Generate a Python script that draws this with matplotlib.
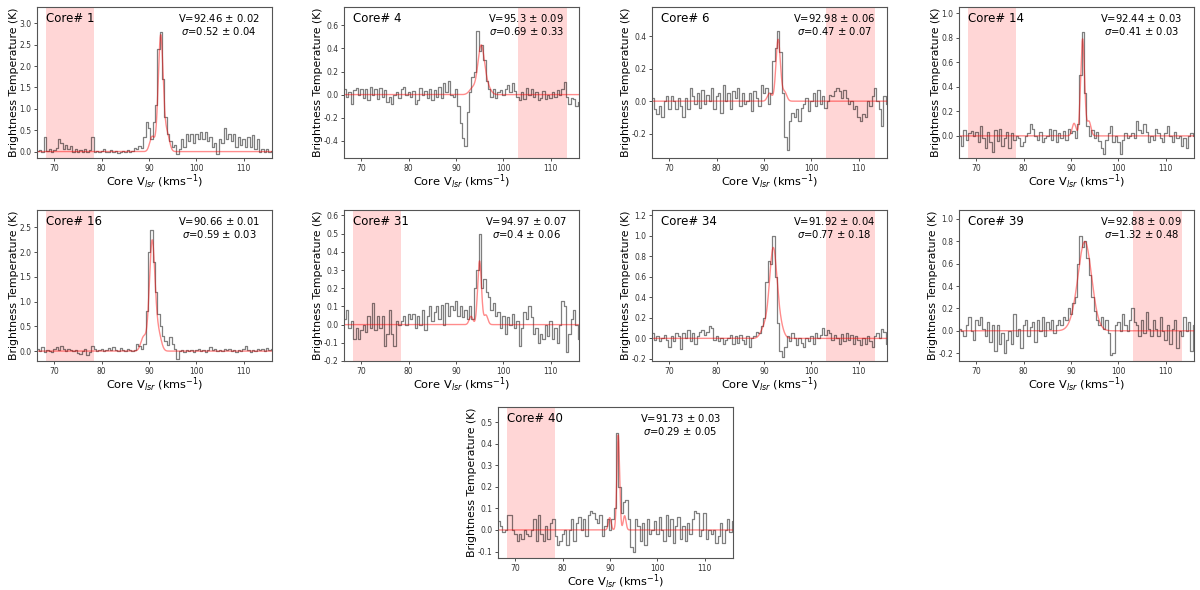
#Spectra of the cores with hyperfine fits
import numpy as np	#arrays
import matplotlib
matplotlib.use('Agg')
import matplotlib.pyplot as plt	#to plot

###################################################################
#data
core_names = ['1', '4', '6', '14', '16', '31', '34', '39', '40']
#velocity channels (km/s)
vel = np.arange(66.5, 116.01, 0.5)

spec_1 = [0.02, 0.03, 0.0, 0.33, 0.02, 0.05, 0.0, 0.03, 0.08, 0.30,
          0.20, 0.05, 0.15, 0.05, 0.12, 0.0, 0.05, 0.0, 0.03, -0.02,
          0.05, 0.0, 0.04, 0.35, 0.0, 0.02, 0.0, 0.02, 0.06, -0.02,
          0.0, 0.03, 0.0, 0.02, -0.03, 0.0, 0.02, 0.0, 0.04, 0.0,
          0.02, 0.08, 0.05, 0.12, 0.08, 0.35, 0.70, 0.55, 0.30, 0.70,
          1.10, 2.40, 2.80, 1.70, 0.80, 0.40, 0.25, 0.10, 0.15, -0.05,
          0.05, 0.30, 0.10, 0.40, 0.25, 0.40, 0.20, 0.42, 0.30, 0.45,
          0.30, 0.45, 0.25, 0.35, 0.10, 0.20, -0.05, 0.30, 0.20, 0.55,
          0.30, 0.40, 0.25, 0.40, 0.10, 0.35, 0.15, 0.30, 0.10, 0.35,
          0.10, 0.38, 0.05, 0.30, 0.0, 0.05, 0.0, 0.06, 0.0, 0.02]
spec_4 = [0.05, -0.02, 0.02, -0.08, 0.04, 0.06, 0.0, 0.05, -0.03, 0.05,
          -0.05, 0.07, 0.0, 0.05, -0.04, 0.06, -0.02, 0.04, -0.06, -0.02,
          -0.08, 0.0, 0.02, -0.03, 0.05, 0.07, 0.0, 0.02, -0.02, 0.03,
          -0.08, -0.05, 0.06, 0.0, 0.03, -0.03, 0.05, -0.05, 0.04, -0.02,
          0.07, -0.03, 0.10, 0.02, 0.12, 0.0, -0.02, 0.05, -0.10, -0.25,
          -0.38, -0.45, -0.15, 0.02, 0.15, 0.20, 0.55, 0.38, 0.43, 0.30,
          0.12, 0.05, -0.02, 0.05, -0.03, 0.02, 0.04, 0.0, 0.05, 0.08,
          0.02, 0.10, 0.03, -0.02, -0.05, 0.02, -0.04, 0.06, 0.0, 0.05,
          -0.02, 0.02, -0.05, -0.03, 0.03, -0.04, 0.0, -0.03, 0.02, -0.02,
          0.04, 0.0, 0.05, 0.11, -0.02, -0.08, -0.03, -0.04, -0.10, -0.06]
spec_6 = [0.02, -0.05, -0.08, -0.03, -0.10, 0.0, 0.03, -0.05, 0.03, 0.0,
          -0.05, 0.02, -0.03, -0.10, 0.02, -0.05, 0.08, 0.03, -0.02, 0.05,
          -0.04, 0.07, -0.02, 0.04, 0.0, 0.08, -0.05, 0.03, 0.05, -0.07,
          0.10, 0.0, 0.05, -0.05, 0.06, 0.02, 0.08, -0.03, 0.05, -0.02,
          0.0, 0.05, -0.06, 0.06, 0.02, -0.03, 0.10, 0.05, 0.08, -0.02,
          0.05, 0.25, 0.33, 0.43, 0.30, 0.05, -0.22, -0.30, -0.12, -0.07,
          -0.10, -0.05, -0.12, -0.04, -0.02, 0.02, -0.06, 0.0, 0.05, -0.03,
          0.07, -0.02, 0.03, -0.04, 0.0, 0.04, 0.03, 0.06, 0.08, 0.06,
          0.02, 0.07, 0.02, -0.02, 0.0, -0.05, -0.03, -0.10, -0.12, -0.08,
          -0.10, 0.0, -0.03, 0.03, 0.08, 0.0, -0.05, -0.15, 0.03, -0.02]
spec_14 = [0.0, -0.08, 0.05, -0.03, 0.02, 0.04, 0.0, 0.03, -0.05, 0.08,
           -0.02, -0.10, 0.03, -0.05, -0.13, 0.05, -0.04, 0.06, -0.08, -0.02,
           0.03, -0.10, 0.02, -0.03, 0.0, -0.02, -0.08, -0.05, 0.0, 0.02,
           0.10, 0.06, 0.0, -0.03, 0.03, -0.05, -0.02, 0.0, 0.06, -0.03,
           0.05, -0.05, 0.02, -0.02, 0.04, -0.03, 0.06, 0.02, 0.04, -0.02,
           0.10, 0.50, 0.85, 0.35, 0.08, 0.0, 0.05, -0.02, 0.03, -0.04,
           -0.10, -0.15, -0.03, 0.02, 0.08, -0.05, 0.0, -0.05, -0.15, -0.03,
           0.02, -0.02, 0.0, 0.02, -0.02, 0.12, 0.05, 0.02, 0.10, 0.03,
           -0.05, 0.0, -0.03, 0.06, 0.02, -0.02, -0.05, 0.02, 0.08, 0.0,
           -0.05, 0.03, -0.02, 0.0, -0.08, -0.02, -0.10, 0.0, 0.02, 0.0]
spec_16 = [0.05, 0.0, 0.08, -0.02, 0.03, 0.0, -0.02, 0.05, 0.08, 0.02,
           0.10, 0.05, 0.0, 0.05, 0.02, 0.0, 0.03, -0.03, -0.05, 0.0,
           0.04, -0.08, -0.02, 0.10, 0.05, 0.0, 0.02, 0.05, 0.0, 0.03,
           0.07, 0.02, 0.08, 0.03, 0.0, 0.06, 0.02, 0.0, 0.05, 0.03,
           0.0, 0.02, 0.15, 0.10, 0.05, 0.15, 0.80, 2.00, 2.45, 1.80,
           1.20, 0.75, 0.50, 0.30, 0.20, 0.12, 0.28, 0.15, 0.05, -0.15,
           0.0, 0.03, -0.02, 0.02, 0.0, 0.03, -0.02, 0.02, 0.04, 0.0,
           0.02, -0.02, 0.03, 0.08, 0.02, 0.05, 0.0, 0.03, 0.0, 0.05,
           0.02, 0.04, 0.0, 0.02, -0.02, 0.03, 0.0, 0.05, 0.10, 0.02,
           -0.02, 0.03, 0.0, 0.05, 0.02, 0.04, 0.0, 0.06, 0.02, 0.05]
spec_31 = [0.03, 0.08, -0.02, 0.02, -0.08, -0.02, -0.08, -0.03, 0.0, -0.04,
           0.05, -0.02, 0.12, -0.03, 0.05, -0.02, 0.05, -0.12, -0.05, 0.08,
           -0.05, -0.12, 0.02, 0.0, 0.02, 0.05, 0.0, 0.06, 0.03, 0.06,
           -0.02, 0.05, 0.0, 0.08, -0.03, 0.05, 0.10, 0.02, 0.07, 0.10,
           0.03, 0.11, 0.0, 0.12, 0.05, 0.10, 0.08, 0.13, 0.05, 0.10,
           0.04, 0.08, 0.03, 0.10, 0.03, 0.20, 0.30, 0.50, 0.20, 0.25,
           0.18, 0.15, 0.08, 0.12, 0.05, 0.07, -0.02, 0.05, -0.05, 0.04,
           0.0, 0.06, -0.02, 0.02, -0.12, -0.02, 0.07, 0.03, 0.10, 0.04,
           -0.05, -0.02, -0.10, -0.05, -0.08, 0.0, -0.06, 0.02, -0.08, -0.02,
           -0.10, 0.0, 0.13, 0.10, -0.15, -0.05, 0.03, 0.08, 0.0, -0.08]
spec_34 = [0.05, -0.02, 0.02, -0.03, 0.0, 0.03, -0.02, -0.08, 0.02, -0.03,
           0.05, 0.02, -0.10, 0.05, 0.0, 0.08, -0.03, 0.05, -0.05, 0.02,
           0.06, 0.08, 0.03, 0.06, 0.12, 0.10, -0.02, 0.02, -0.03, 0.0,
           -0.05, -0.02, 0.0, 0.03, -0.05, 0.02, -0.04, 0.03, -0.02, -0.05,
           0.02, -0.08, 0.0, 0.02, 0.06, 0.05, 0.12, 0.20, 0.55, 0.75,
           0.72, 1.00, 0.60, 0.15, -0.12, -0.18, -0.08, 0.02, -0.03, 0.05,
           0.0, -0.06, 0.0, -0.04, -0.08, 0.0, -0.03, 0.02, -0.05, 0.05,
           0.0, 0.03, 0.10, 0.03, 0.08, 0.05, -0.02, 0.03, 0.0, -0.05,
           0.04, -0.03, 0.05, -0.02, 0.03, -0.05, 0.02, -0.02, -0.06, 0.0,
           -0.05, 0.02, -0.03, -0.08, 0.02, 0.05, 0.0, 0.09, 0.06, -0.05]
spec_39 = [0.02, 0.0, -0.05, 0.05, 0.12, 0.0, -0.08, 0.10, 0.05, 0.12,
           0.02, -0.05, 0.08, -0.10, 0.05, -0.18, 0.05, -0.12, -0.02, -0.20,
           -0.08, 0.0, -0.12, 0.15, -0.05, 0.02, -0.15, 0.05, 0.10, -0.05,
           0.03, 0.08, -0.10, 0.10, 0.0, 0.12, -0.05, 0.08, 0.02, 0.10,
           -0.02, 0.05, 0.10, 0.05, 0.12, 0.10, 0.20, 0.15, 0.25, 0.30,
           0.60, 0.85, 0.75, 0.80, 0.65, 0.50, 0.30, 0.18, 0.10, 0.05,
           0.12, 0.02, 0.10, -0.02, -0.22, -0.20, 0.05, 0.08, 0.0, 0.15,
           0.05, 0.0, 0.10, 0.20, 0.08, 0.05, -0.05, 0.10, -0.02, 0.17,
           0.02, -0.05, 0.10, 0.02, -0.05, 0.12, 0.0, -0.08, 0.05, -0.12,
           0.02, 0.10, -0.15, 0.0, -0.05, 0.12, 0.0, 0.08, -0.18, 0.05]
spec_40 = [0.04, 0.02, -0.01, 0.0, 0.07, 0.07, 0.0, -0.02, -0.05, -0.02,
           -0.04, 0.0, -0.02, -0.03, 0.0, 0.05, -0.05, 0.07, -0.02, -0.05,
           0.02, -0.04, 0.03, 0.05, -0.03, -0.07, -0.05, -0.02, 0.0, -0.07,
           0.0, 0.05, -0.05, 0.03, 0.06, 0.0, 0.05, -0.03, 0.07, 0.09,
           0.08, 0.05, 0.03, 0.07, -0.03, 0.02, 0.05, 0.0, 0.05, 0.10,
           0.45, 0.20, 0.08, 0.13, 0.14, 0.05, -0.08, -0.10, 0.05, 0.02,
           -0.05, 0.03, -0.07, 0.05, -0.02, 0.0, 0.04, -0.02, 0.06, 0.0,
           -0.05, 0.07, -0.03, 0.05, -0.06, 0.02, 0.06, -0.04, 0.02, -0.05,
           0.03, -0.02, 0.05, 0.09, 0.08, -0.03, 0.0, 0.08, -0.04, 0.0,
           -0.02, 0.0, -0.06, -0.03, 0.03, -0.06, 0.0, 0.05, -0.01, 0.04]
spectra = [spec_1, spec_4, spec_6, spec_14, spec_16, spec_31, spec_34, spec_39, spec_40]

#fit results
fit_vel = [92.46, 95.3, 92.98, 92.44, 90.66, 94.97, 91.92, 92.88, 91.73]
fit_vel_err = [0.02, 0.09, 0.06, 0.03, 0.01, 0.07, 0.04, 0.09, 0.03]
fit_sig = [0.52, 0.69, 0.47, 0.41, 0.59, 0.4, 0.77, 1.32, 0.29]
fit_sig_err = [0.04, 0.33, 0.07, 0.03, 0.03, 0.06, 0.18, 0.48, 0.05]
#amplitude of the main component
fit_amp = [2.72, 0.42, 0.38, 0.79, 2.22, 0.35, 0.85, 0.70, 0.44]
#satellite hyperfine components (offset km/s, relative strength)
hf_off = [-1.8, 1.35]
hf_rel = [0.13, 0.15]

#baseline window used for rms
span_lo = [68.2, 103.2, 103.2, 68.2, 68.2, 68.2, 103.2, 103.2, 68.2]
span_hi = [78.3, 113.5, 113.5, 78.3, 78.3, 78.3, 113.5, 113.5, 78.3]

ylims = [(-0.15, 3.38), (-0.55, 0.76), (-0.35, 0.58), (-0.18, 1.05), (-0.2, 2.85),
         (-0.2, 0.63), (-0.22, 1.25), (-0.27, 1.08), (-0.13, 0.57)]
yticks = [np.arange(0, 3.01, 0.5), np.arange(-0.4, 0.61, 0.2), np.arange(-0.2, 0.41, 0.2),
          np.arange(0, 1.01, 0.2), np.arange(0, 2.51, 0.5), np.arange(-0.2, 0.61, 0.1),
          np.arange(-0.2, 1.21, 0.2), np.arange(-0.2, 1.01, 0.2), np.arange(-0.1, 0.51, 0.1)]

#axes positions (pixels of a 1200x590 figure: left, top)
ax_left = [37, 344, 652, 959, 37, 344, 652, 959, 498]
ax_top = [7, 7, 7, 7, 210, 210, 210, 210, 407]

####################################################
def hfs(v, amp, v0, sig):
    y = amp*np.exp(-0.5*((v-v0)/sig)**2)
    for off, rel in zip(hf_off, hf_rel):
        y += rel*amp*np.exp(-0.5*((v-v0-off)/sig)**2)
    return y

fig = plt.figure(figsize=(12, 5.9), dpi=100)
W, H = 1200., 590.
vfine = np.linspace(66, 116.3, 1500)
for i in range(len(core_names)):
    ax = fig.add_axes([ax_left[i]/W, 1-(ax_top[i]+151)/H, 235/W, 151/H])
    ax.axvspan(span_lo[i], span_hi[i], color='red', alpha=0.16, lw=0)
    ax.step(vel, spectra[i], where='mid', color='k', alpha=0.5, lw=0.9)
    ax.plot(vfine, hfs(vfine, fit_amp[i], fit_vel[i], fit_sig[i]), color='red', alpha=0.45, lw=1)
    ax.set_xlim(66.3, 116)
    ax.set_ylim(*ylims[i])
    ax.set_xticks([70, 80, 90, 100, 110])
    ax.set_yticks(yticks[i])
    ax.yaxis.set_major_formatter(plt.FormatStrFormatter('%.1f'))
    ax.tick_params(labelsize=5.5, length=2.5, width=0.6, pad=1.5, colors='#333333')
    for s in ax.spines.values():
        s.set_linewidth(0.8)
        s.set_color('#555555')
    ax.set_xlabel(r'Core V$_{lsr}$ (kms$^{-1}$)', fontsize=8.2, labelpad=0.5)
    ax.set_ylabel('Brightness Temperature (K)', fontsize=7.8, labelpad=0.5)
    ax.text(0.04, 0.97, 'Core# ' + core_names[i], transform=ax.transAxes,
            fontsize=8.5, va='top', ha='left')
    ax.text(0.775, 0.97, 'V=%s $\\pm$ %s\n$\\sigma$=%s $\\pm$ %s' %
            (fit_vel[i], fit_vel_err[i], fit_sig[i], fit_sig_err[i]),
            transform=ax.transAxes, fontsize=7.2, va='top', ha='center',
            multialignment='center', linespacing=1.1)

plt.savefig('out.png', dpi=100)
